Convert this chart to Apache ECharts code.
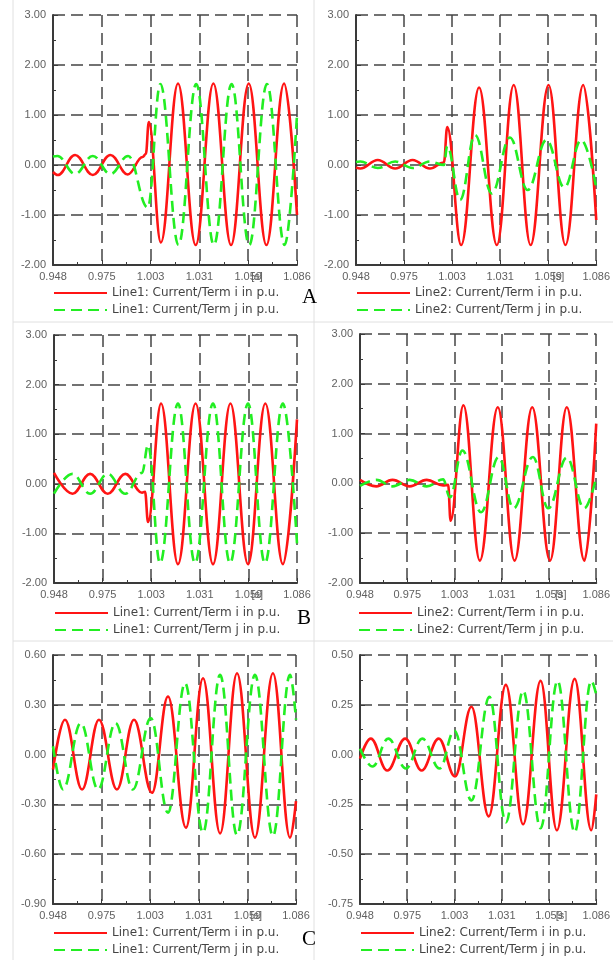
<!DOCTYPE html>
<html>
<head>
<meta charset="utf-8">
<script src="https://cdn.jsdelivr.net/npm/echarts@6/dist/echarts.min.js"></script>
<style>
  html, body { margin: 0; padding: 0; background: #fff; }
  #chart { width: 613px; height: 960px; }
</style>
</head>
<body>
<div id="chart"></div>
<script>
// time axis in seconds, tick labels as printed
const tStart = 0.948;
const tStep = 0.0276;
const xLabels = ['0.948', '0.975', '1.003', '1.031', '1.059', '1.086'];

// y ranges [min, max, step]
const yAB = [-2, 3, 1];
const yCL = [-0.9, 0.6, 0.3];
const yCR = [-0.75, 0.5, 0.25];

const line1Names = ['Line1: Current/Term i in p.u.', 'Line1: Current/Term j in p.u.'];
const line2Names = ['Line2: Current/Term i in p.u.', 'Line2: Current/Term j in p.u.'];

// [t (s), current (p.u.)] read at peaks / troughs
const aLeftI = [[0.948,-0.14],[0.9507,-0.2],[0.9605,0.2],[0.9705,-0.2],[0.9805,0.2],[0.9903,-0.19],[0.9987,0.16],[1.0005,0.22],[1.0022,0.86],[1.009,-1.55],[1.0187,1.63],[1.0287,-1.6],[1.0387,1.63],[1.0487,-1.6],[1.0587,1.63],[1.0687,-1.6],[1.0787,1.63],[1.086,-1.0]];
const aLeftJ = [[0.948,0.17],[0.9505,0.18],[0.9605,-0.18],[0.9705,0.18],[0.9805,-0.18],[0.9905,0.18],[1.0016,-0.85],[1.0087,1.62],[1.019,-1.6],[1.029,1.62],[1.039,-1.6],[1.049,1.62],[1.059,-1.6],[1.069,1.62],[1.079,-1.6],[1.086,1.0]];
const aRightI = [[0.948,-0.05],[0.9505,-0.07],[0.9605,0.1],[0.9705,-0.07],[0.9805,0.1],[0.9905,-0.07],[0.9985,0.05],[1.0004,0.76],[1.0084,-1.6],[1.0187,1.55],[1.0289,-1.6],[1.0386,1.6],[1.0483,-1.6],[1.0586,1.6],[1.0683,-1.6],[1.0785,1.6],[1.086,-1.1]];
const aRightJ = [[0.948,0.06],[0.9505,0.07],[0.9605,-0.06],[0.9705,0.07],[0.9805,-0.06],[0.9905,0.07],[0.9985,0.0],[1.0004,0.38],[1.0078,-0.7],[1.0164,0.6],[1.026,-0.57],[1.0364,0.55],[1.0466,-0.5],[1.0574,0.5],[1.0677,-0.45],[1.0774,0.5],[1.086,-0.45]];

const bLeftI = [[0.948,0.22],[0.9585,-0.2],[0.9685,0.2],[0.9785,-0.2],[0.9885,0.2],[0.998,-0.18],[0.9997,-0.16],[1.0014,-0.77],[1.0088,1.62],[1.0184,-1.62],[1.0284,1.62],[1.0383,-1.62],[1.0482,1.62],[1.0582,-1.62],[1.068,1.62],[1.078,-1.62],[1.086,1.3]];
const bLeftJ = [[0.948,-0.2],[0.9585,0.2],[0.9685,-0.2],[0.9785,0.2],[0.9885,-0.2],[0.998,0.22],[1.0014,0.78],[1.0082,-1.6],[1.0184,1.62],[1.0281,-1.6],[1.0383,1.62],[1.048,-1.6],[1.0582,1.62],[1.0678,-1.6],[1.078,1.62],[1.086,-1.2]];
const bRightI = [[0.948,0.07],[0.9575,-0.06],[0.967,0.07],[0.977,-0.06],[0.987,0.07],[0.9965,-0.04],[0.9995,-0.03],[1.0009,-0.75],[1.0084,1.57],[1.018,-1.55],[1.0285,1.53],[1.0383,-1.55],[1.0486,1.53],[1.059,-1.55],[1.0688,1.53],[1.0791,-1.55],[1.086,1.2]];
const bRightJ = [[0.948,-0.05],[0.9575,0.07],[0.967,-0.06],[0.977,0.07],[0.987,-0.06],[0.9965,0.08],[1.0005,-0.28],[1.0078,0.66],[1.0187,-0.58],[1.029,0.53],[1.0377,-0.5],[1.049,0.53],[1.058,-0.5],[1.0688,0.52],[1.079,-0.5],[1.086,0.12]];

const cLeftI = [[0.948,-0.09],[0.9548,0.21],[0.9645,-0.21],[0.9741,0.21],[0.9843,-0.21],[0.994,0.21],[1.0042,-0.23],[1.0133,0.35],[1.0235,-0.44],[1.0332,0.46],[1.0429,-0.475],[1.0525,0.49],[1.0627,-0.5],[1.0729,0.49],[1.0826,-0.5],[1.086,-0.28]];
const cLeftJ = [[0.948,0.05],[0.9537,-0.21],[0.9638,0.19],[0.9736,-0.21],[0.9835,0.19],[0.9934,-0.21],[1.0035,0.22],[1.0133,-0.35],[1.023,0.43],[1.0332,-0.47],[1.0429,0.48],[1.0525,-0.485],[1.0627,0.48],[1.0729,-0.49],[1.0826,0.48],[1.086,0.21]];
const cRightI = [[0.948,-0.02],[0.9543,0.08],[0.9639,-0.08],[0.9744,0.08],[0.984,-0.08],[0.994,0.08],[1.0035,-0.11],[1.0131,0.24],[1.0232,-0.31],[1.0332,0.35],[1.0433,-0.35],[1.0535,0.37],[1.063,-0.38],[1.0734,0.38],[1.0831,-0.38],[1.086,-0.2]];
const cRightJ = [[0.948,0.03],[0.9553,-0.06],[0.9645,0.08],[0.9748,-0.07],[0.9844,0.08],[0.9945,-0.07],[1.0031,0.12],[1.0131,-0.23],[1.0236,0.29],[1.0332,-0.34],[1.0433,0.32],[1.0535,-0.37],[1.0634,0.37],[1.0734,-0.39],[1.0831,0.37],[1.086,0.3]];

// x axis runs in ms after tStart so the tick step lines up with min = 0
function toMs(arr) {
  return arr.map(p => [(p[0] - tStart) * 1000, p[1]]);
}

const panels = [
  { grid: { left: 53, top: 15, width: 244, height: 250 }, y: yAB, i: aLeftI, j: aLeftJ, names: line1Names, lg: [53, 287] },
  { grid: { left: 356, top: 15, width: 242, height: 250 }, y: yAB, i: aRightI, j: aRightJ, names: line2Names, lg: [356, 287] },
  { grid: { left: 54, top: 335, width: 243, height: 248 }, y: yAB, i: bLeftI, j: bLeftJ, names: line1Names, lg: [54, 607] },
  { grid: { left: 360, top: 334, width: 240, height: 249 }, y: yAB, i: bRightI, j: bRightJ, names: line2Names, lg: [358, 607] },
  { grid: { left: 53, top: 655, width: 243, height: 249 }, y: yCL, i: cLeftI, j: cLeftJ, names: line1Names, lg: [53, 927] },
  { grid: { left: 360, top: 655, width: 241, height: 249 }, y: yCR, i: cRightI, j: cRightJ, names: line2Names, lg: [360, 927] }
];

const labelFont = { color: '#606060', fontSize: 11, fontFamily: 'Liberation Sans, Arial, sans-serif' };
const gridLine = { show: true, lineStyle: { color: '#444', width: 1.5, type: [12, 6] } };
const axisLine = { show: true, onZero: false, lineStyle: { color: '#3a3a3a', width: 2 } };

const grids = [], xAxes = [], yAxes = [], series = [], legends = [], graphics = [];

panels.forEach((p, k) => {
  grids.push(p.grid);
  xAxes.push({
    type: 'value', gridIndex: k, min: 0, max: 138, interval: tStep * 1000,
    axisLine: axisLine,
    axisTick: { show: true, inside: true, length: 5, lineStyle: { color: '#3a3a3a' } },
    minorTick: { show: true, splitNumber: 2, length: 3, lineStyle: { color: '#3a3a3a' } },
    splitLine: gridLine,
    axisLabel: Object.assign({ margin: 6, formatter: v => xLabels[Math.round(v / (tStep * 1000))] }, labelFont)
  });
  yAxes.push({
    type: 'value', gridIndex: k, min: p.y[0], max: p.y[1], interval: p.y[2],
    axisLine: axisLine,
    axisTick: { show: true, inside: true, length: 5, lineStyle: { color: '#3a3a3a' } },
    minorTick: { show: true, splitNumber: 2, length: 3, lineStyle: { color: '#3a3a3a' } },
    splitLine: gridLine,
    axisLabel: Object.assign({ margin: 7, formatter: v => (Math.abs(v) < 1e-9 ? 0 : v).toFixed(2) }, labelFont)
  });
  series.push({
    name: p.names[0], type: 'line', xAxisIndex: k, yAxisIndex: k,
    data: toMs(p.i), symbol: 'none', smooth: 0.4, smoothMonotone: 'x',
    lineStyle: { color: '#ff1414', width: 2.6 }, itemStyle: { color: '#ff1414' }
  });
  series.push({
    name: p.names[1], type: 'line', xAxisIndex: k, yAxisIndex: k,
    data: toMs(p.j), symbol: 'none', smooth: 0.4, smoothMonotone: 'x',
    lineStyle: { color: '#22ee22', width: 2.6, type: [11, 6] }, itemStyle: { color: '#22ee22' }
  });
  legends.push({
    data: p.names, orient: 'vertical', left: p.lg[0], top: p.lg[1], padding: 0,
    itemWidth: 53, itemHeight: 12, itemGap: 5, selectedMode: false,
    itemStyle: { opacity: 0 },
    textStyle: { color: '#444', fontSize: 12, fontFamily: 'DejaVu Sans, Verdana, sans-serif' }
  });
  // unit mark next to the 1.059 tick
  graphics.push({
    type: 'text', left: p.grid.left + p.grid.width * 0.8 + 3, top: p.grid.top + p.grid.height + 6,
    style: { text: '[s]', fill: '#606060', font: '11px Liberation Sans, Arial, sans-serif' }
  });
});

// panel frames
const frame = { stroke: '#e0e0e0', lineWidth: 1 };
graphics.push(
  { type: 'line', shape: { x1: 13, y1: 0, x2: 13, y2: 960 }, style: frame },
  { type: 'line', shape: { x1: 314, y1: 0, x2: 314, y2: 960 }, style: frame },
  { type: 'line', shape: { x1: 13, y1: 322, x2: 613, y2: 322 }, style: frame },
  { type: 'line', shape: { x1: 13, y1: 641, x2: 613, y2: 641 }, style: frame }
);
// case letters
const serif = '21px Liberation Serif, Times New Roman, serif';
graphics.push(
  { type: 'text', left: 302, top: 287, style: { text: 'A', fill: '#000', font: serif } },
  { type: 'text', left: 297, top: 608, style: { text: 'B', fill: '#000', font: serif } },
  { type: 'text', left: 302, top: 929, style: { text: 'C', fill: '#000', font: serif } }
);

const chart = echarts.init(document.getElementById('chart'));
chart.setOption({
  animation: false,
  backgroundColor: '#fff',
  grid: grids,
  xAxis: xAxes,
  yAxis: yAxes,
  legend: legends,
  series: series,
  graphic: graphics
});
</script>
</body>
</html>
